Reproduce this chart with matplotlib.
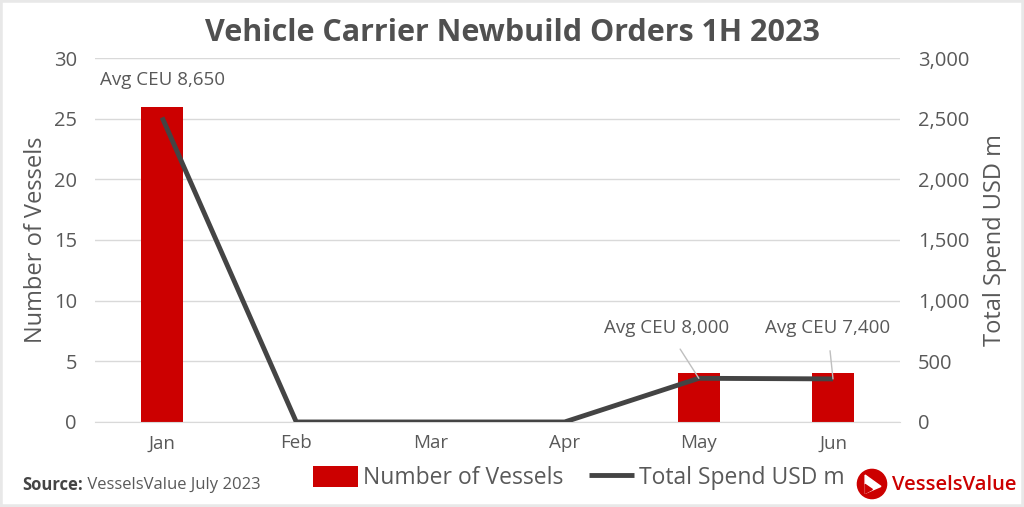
import matplotlib.pyplot as plt
from matplotlib.patches import Rectangle, Circle, Polygon
from matplotlib.ticker import FuncFormatter, MultipleLocator

plt.rcParams['font.family'] = ['Open Sans', 'DejaVu Sans']

months = ['Jan', 'Feb', 'Mar', 'Apr', 'May', 'Jun']
vessels = [26, 0, 0, 0, 4, 4]
spend = [2510, 0, 0, 0, 360, 355]
ceu_labels = {0: 'Avg CEU 8,650', 4: 'Avg CEU 8,000', 5: 'Avg CEU 7,400'}

red = '#cc0000'
dark = '#444444'
grey_text = '#595959'

fig = plt.figure(figsize=(10.24, 5.07), dpi=100)
fig.patches.append(Rectangle((0, 0), 1, 1, transform=fig.transFigure,
                             fill=False, edgecolor='#e8e8e8', linewidth=4))

ax = fig.add_axes([0.0928, 0.1677, 0.7862, 0.7179])
ax2 = ax.twinx()
x = list(range(len(months)))

bars = ax.bar(x, vessels, width=0.31, color=red, label='Number of Vessels', zorder=2)
line, = ax2.plot(x, spend, color=dark, linewidth=3.5, label='Total Spend USD m',
                 solid_capstyle='butt', zorder=3)

ax.set_xlim(-0.5, 5.5)
ax.set_ylim(0, 30)
ax2.set_ylim(0, 3000)
ax.yaxis.set_major_locator(MultipleLocator(5))
ax2.yaxis.set_major_locator(MultipleLocator(500))
ax2.yaxis.set_major_formatter(FuncFormatter(lambda v, p: f'{int(v):,}'))
ax.set_xticks(x)
ax.set_xticklabels(months)

ax.grid(axis='y', color='#d9d9d9', linewidth=1, zorder=0)
ax.set_axisbelow(True)
for a in (ax, ax2):
    for s in a.spines.values():
        s.set_visible(False)
    a.tick_params(length=0, labelsize=14.5, labelcolor=grey_text, pad=13)
ax.spines['bottom'].set_visible(True)
ax.spines['bottom'].set_color('#d9d9d9')
ax.tick_params(axis='x', pad=9, labelsize=13.5)

ax.set_ylabel('Number of Vessels', fontsize=17, color=grey_text, labelpad=4)
ax2.set_ylabel('Total Spend USD m', fontsize=17, color=grey_text, labelpad=10)

fig.text(0.5, 0.935, 'Vehicle Carrier Newbuild Orders 1H 2023', ha='center', va='center',
         fontsize=22, fontweight='bold', color='#505050')

# CEU annotations
ax.text(0, 28.2, ceu_labels[0], ha='center', va='center', fontsize=13.5, color=grey_text)
ax2.annotate(ceu_labels[4], xy=(4, spend[4]), xytext=(3.76, 775), ha='center', va='center',
             fontsize=13.5, color=grey_text,
             arrowprops=dict(arrowstyle='-', color='#bfbfbf', lw=1, shrinkA=8, shrinkB=0))
ax2.annotate(ceu_labels[5], xy=(5, spend[5]), xytext=(4.96, 775), ha='center', va='center',
             fontsize=13.5, color=grey_text,
             arrowprops=dict(arrowstyle='-', color='#bfbfbf', lw=1, shrinkA=8, shrinkB=0))

fig.legend([bars, line], ['Number of Vessels', 'Total Spend USD m'], loc='center',
           bbox_to_anchor=(0.565, 0.057), ncol=2, frameon=False, fontsize=16.5,
           handlelength=2.0, handleheight=1.0, handletextpad=0.2, columnspacing=1.1,
           labelcolor=grey_text)

src = fig.text(0.022, 0.043, 'Source:', fontsize=12, fontweight='bold', color=dark, va='center')
ax.annotate(' VesselsValue July 2023', xy=(1, 0.5), xycoords=src, va='center',
            fontsize=12, color=grey_text)

# logo
logo = fig.add_axes([872 / 1024 - 0.02, 0.0454 - 0.04, 0.04, 0.08])
logo.set_xlim(-1, 1)
logo.set_ylim(-1, 1)
logo.set_aspect('equal')
logo.axis('off')
logo.add_patch(Circle((0, 0), 0.72, color=red))
logo.add_patch(Polygon([(-0.34, 0.44), (0.44, -0.12), (-0.34, -0.46)], closed=True, color='white'))
logo.add_patch(Polygon([(-0.34, -0.02), (0.02, -0.27), (-0.34, -0.46)], closed=True, color=red))
fig.text(0.871, 0.043, 'VesselsValue', fontsize=14.5, color=red, va='center',
         fontweight='semibold')

fig.savefig('out.png', dpi=100, facecolor='white')
